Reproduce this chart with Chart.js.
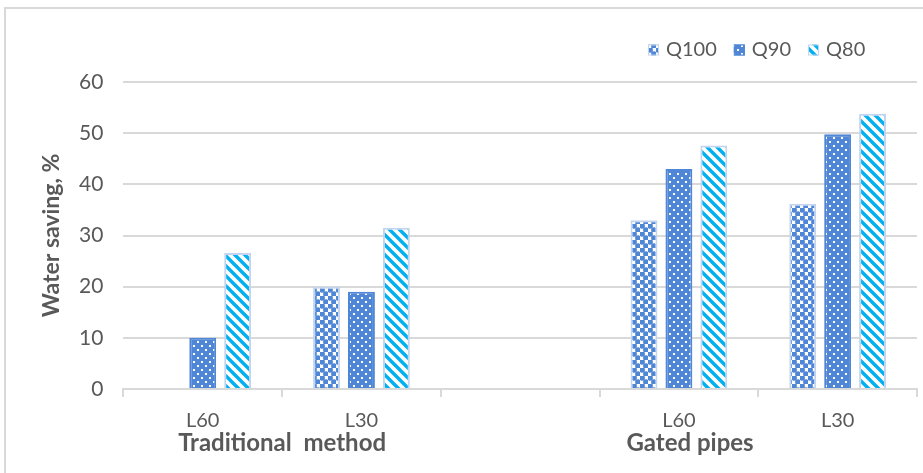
<!DOCTYPE html>
<html>
<head>
<meta charset="utf-8">
<script src="https://cdn.jsdelivr.net/npm/chart.js@4.4.1/dist/chart.umd.min.js"></script>
<style>
  html, body { margin: 0; padding: 0; background: #ffffff; }
  #wrap { width: 923px; height: 473px; position: relative; }
</style>
</head>
<body>
<div id="wrap"><canvas id="c" width="923" height="473"></canvas></div>
<script>
// Water saving (%) by lateral length and discharge level
const categories = ['L60', 'L30', '', 'L60', 'L30'];
const seriesNames = ['Q100', 'Q90', 'Q80'];
const q100 = [0, 20, null, 33, 36.2];
const q90 = [10, 19, null, 43, 49.8];
const q80 = [26.6, 31.5, null, 47.6, 53.8];
const yTicks = [0, 10, 20, 30, 40, 50, 60];
const yTitle = 'Water saving, %';
// group captions, placed on the category axis (index units)
const groupNames = ['Traditional  method', 'Gated pipes'];
const groupAt = [0.5, 3.07];

const BLUE = '#4f86d6';
const CYAN = '#00b0f0';
const EDGE = '#c3d5ee';
const TEXT = '#595959';
const GRID = '#d9d9d9';
const FONT = 'Lato, "Open Sans", sans-serif';

function tile(size, draw) {
  const t = document.createElement('canvas');
  t.width = size; t.height = size;
  const g = t.getContext('2d');
  draw(g, size);
  return g.createPattern(t, 'repeat');
}

const ctx0 = document.getElementById('c').getContext('2d');

// checkered spheres
const patQ100 = tile(8, (g, s) => {
  g.fillStyle = '#ffffff'; g.fillRect(0, 0, s, s);
  g.fillStyle = BLUE;
  g.beginPath(); g.arc(2, 2, 2.7, 0, Math.PI * 2); g.fill();
  g.beginPath(); g.arc(6, 6, 2.7, 0, Math.PI * 2); g.fill();
  g.fillRect(3.5, 0, 1, 8);
});
// solid blue with small white dots
const patQ90 = tile(8, (g, s) => {
  g.fillStyle = BLUE; g.fillRect(0, 0, s, s);
  g.fillStyle = '#ffffff';
  g.fillRect(1, 1, 2, 2);
  g.fillRect(5, 5, 2, 2);
});
// wide downward diagonal stripes
const patQ80 = tile(10, (g, s) => {
  g.fillStyle = '#ffffff'; g.fillRect(0, 0, s, s);
  g.strokeStyle = CYAN; g.lineWidth = 3.4;
  g.beginPath();
  g.moveTo(-2, -2); g.lineTo(s + 2, s + 2);
  g.moveTo(-s - 2, -2); g.lineTo(2, s + 2);
  g.moveTo(s - 2, -2); g.lineTo(2 * s + 2, s + 2);
  g.stroke();
});

const fills = [patQ100, patQ90, patQ80];
const edges = [EDGE, BLUE, EDGE];
const seriesValues = [q100, q90, q80];

const frame = {
  id: 'frame',
  beforeDraw(chart) {
    const c = chart.ctx;
    c.save();
    c.strokeStyle = GRID; c.lineWidth = 2;
    c.beginPath();
    c.moveTo(5, chart.height); c.lineTo(5, 8); c.lineTo(chart.width, 8);
    c.stroke();
    c.restore();
  }
};

const captions = {
  id: 'captions',
  afterDraw(chart) {
    const c = chart.ctx, x = chart.scales.x, a = chart.chartArea;
    c.save();
    c.font = 'bold 24px ' + FONT;
    c.fillStyle = TEXT;
    c.textAlign = 'center'; c.textBaseline = 'middle';
    groupNames.forEach((n, i) => {
      c.fillText(n, x.getPixelForValue(groupAt[i]), 443);
    });
    // vertical axis title
    c.font = 'bold 23px ' + FONT;
    c.translate(52, (a.top + a.bottom) / 2);
    c.rotate(-Math.PI / 2);
    c.fillText(yTitle, 0, 0);
    c.restore();
  }
};

const legendRow = {
  id: 'legendRow',
  afterDraw(chart) {
    const c = chart.ctx;
    c.save();
    c.font = '20px ' + FONT;
    c.textBaseline = 'middle';
    let x = 648;
    const y = 50;
    chart.data.datasets.forEach((ds, i) => {
      c.fillStyle = fills[i];
      c.fillRect(x, y - 5.5, 11, 11);
      c.strokeStyle = edges[i]; c.lineWidth = 1;
      c.strokeRect(x + 0.5, y - 5, 10, 10);
      x += 18;
      c.fillStyle = TEXT;
      c.fillText(ds.label, x, y);
      x += c.measureText(ds.label).width + 17;
    });
    c.restore();
  }
};

new Chart(ctx0, {
  type: 'bar',
  data: {
    labels: categories,
    datasets: seriesNames.map((name, i) => ({
      label: name,
      data: seriesValues[i],
      backgroundColor: fills[i],
      borderColor: edges[i],
      borderWidth: (ctx) => (ctx.raw ? 2 : 0),
      borderSkipped: 'bottom',
      categoryPercentage: 0.66,
      barPercentage: 0.77
    }))
  },
  options: {
    responsive: false,
    animation: false,
    devicePixelRatio: 1,
    layout: { padding: { left: 59, right: 6, top: 82, bottom: 28 } },
    plugins: {
      legend: { display: false },
      tooltip: { enabled: false }
    },
    scales: {
      x: {
        offset: true,
        grid: { display: true, drawOnChartArea: false, drawTicks: true, tickLength: 8, color: GRID, lineWidth: 2, offset: true },
        border: { display: true, color: GRID, width: 2 },
        ticks: { color: TEXT, font: { family: FONT, size: 20 }, padding: 12, maxRotation: 0, autoSkip: false }
      },
      y: {
        min: yTicks[0],
        max: yTicks[yTicks.length - 1],
        afterBuildTicks: (s) => { s.ticks = yTicks.map(v => ({ value: v })); },
        grid: { color: GRID, lineWidth: 2, drawTicks: false },
        border: { display: false },
        ticks: { color: TEXT, font: { family: FONT, size: 21 }, padding: 20 },
        title: { display: false }
      }
    }
  },
  plugins: [frame, captions, legendRow]
});
</script>
</body>
</html>
